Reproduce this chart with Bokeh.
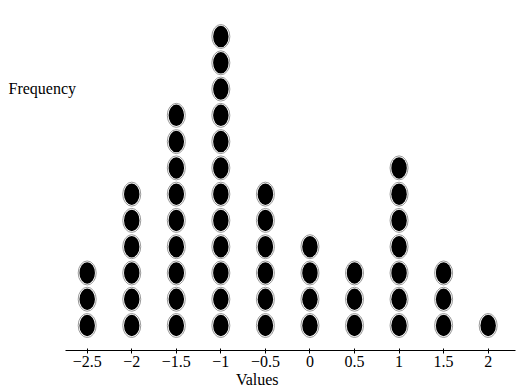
from bokeh.plotting import figure
from bokeh.models import ColumnDataSource, Label, FixedTicker, Range1d, LinearAxis
from bokeh.embed import file_html
from bokeh.resources import INLINE

# Data
values = [-2.5, -2, -1.5, -1, -0.5, 0, 0.5, 1, 1.5, 2]
counts = [3, 6, 9, 12, 6, 4, 3, 7, 3, 1]
tick_labels = ["\u22122.5", "\u22122", "\u22121.5", "\u22121", "\u22120.5", "0", "0.5", "1", "1.5", "2"]

xs, ys = [], []
for v, c in zip(values, counts):
    for k in range(1, c + 1):
        xs.append(v)
        ys.append(k)
src = ColumnDataSource(dict(x=xs, y=ys))

FONT = "Liberation Serif"
PX_X = 89.1   # pixels per unit on x
PX_Y = 26.27  # pixels per dot on y

p = figure(width=516, height=389, output_backend="svg", toolbar_location=None,
           x_range=Range1d(-3.473, 2.318), y_range=Range1d(-1.436, 13.372),
           x_axis_location=None, y_axis_location=None, min_border=0)
p.outline_line_color = None
p.xgrid.visible = False
p.ygrid.visible = False
p.background_fill_color = "white"
p.border_fill_color = "white"

# dots: grey-ringed black ellipses
p.ellipse(x="x", y="y", width=18 / PX_X, height=24 / PX_Y, source=src,
          fill_color="white", line_color="#9a9a9a", line_width=1)
p.ellipse(x="x", y="y", width=15.5 / PX_X, height=21.5 / PX_Y, source=src,
          fill_color="black", line_color=None)

ax = LinearAxis(fixed_location=0.0483, bounds=(-2.744, 2.307))
ax.ticker = FixedTicker(ticks=values)
ax.major_label_overrides = {v: t for v, t in zip(values, tick_labels)}
ax.minor_tick_line_color = None
ax.major_tick_in = 2
ax.major_tick_out = 3
ax.axis_line_color = "black"
ax.major_tick_line_color = "black"
ax.major_label_standoff = 2
ax.major_label_text_font = FONT
ax.major_label_text_font_size = "16px"
ax.major_label_text_color = "black"
p.add_layout(ax, "below")

p.add_layout(Label(x=-3.383, y=10.02, text="Frequency", text_font=FONT,
                   text_font_size="16px", text_color="black",
                   text_align="left", text_baseline="alphabetic"))
p.add_layout(Label(x=-0.592, y=-1.056, text="Values", text_font=FONT,
                   text_font_size="16px", text_color="black",
                   text_align="center", text_baseline="alphabetic"))

open("out.html", "w").write(file_html(p, INLINE))
